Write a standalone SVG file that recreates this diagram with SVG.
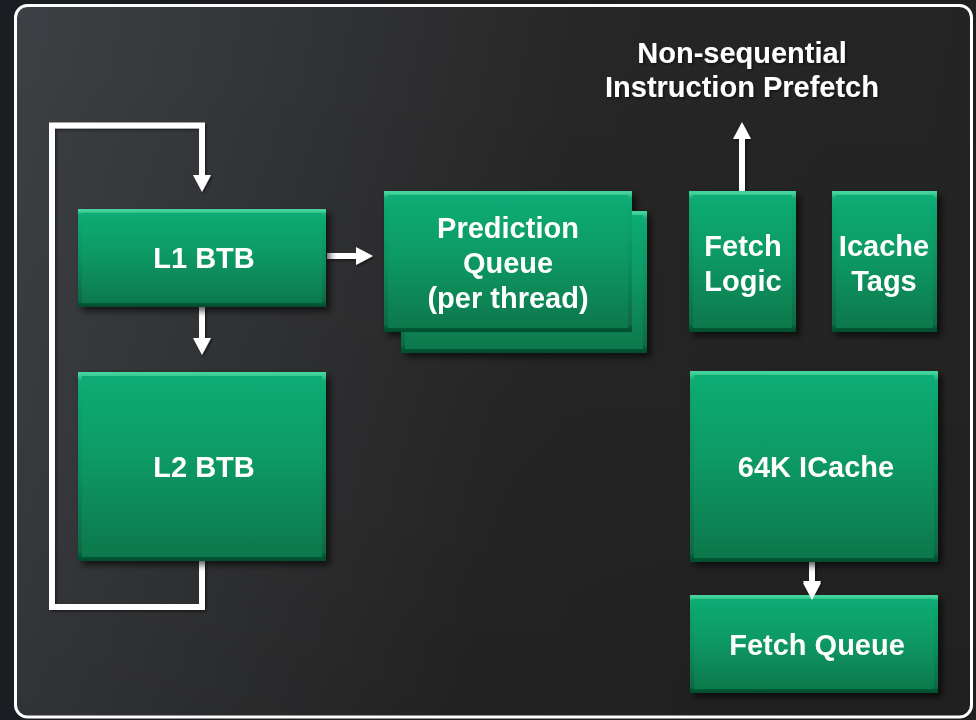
<svg xmlns="http://www.w3.org/2000/svg" width="976" height="720" viewBox="0 0 976 720">
  <defs>
    <linearGradient id="bg" x1="0" y1="0" x2="1" y2="0">
      <stop offset="0" stop-color="#1a1d21"/>
      <stop offset="1" stop-color="#202020"/>
    </linearGradient>
    <linearGradient id="panel" x1="0" y1="0" x2="1" y2="0.15">
      <stop offset="0" stop-color="#3d4044"/>
      <stop offset="0.35" stop-color="#303133"/>
      <stop offset="0.6" stop-color="#262626"/>
      <stop offset="1" stop-color="#242424"/>
    </linearGradient>
    <linearGradient id="panelShade" x1="0" y1="0" x2="0" y2="1">
      <stop offset="0" stop-color="#000" stop-opacity="0"/>
      <stop offset="0.7" stop-color="#000" stop-opacity="0.05"/>
      <stop offset="1" stop-color="#000" stop-opacity="0.12"/>
    </linearGradient>
    <linearGradient id="green" x1="0" y1="0" x2="0" y2="1">
      <stop offset="0" stop-color="#0bad76"/>
      <stop offset="0.45" stop-color="#0a9a65"/>
      <stop offset="1" stop-color="#08764a"/>
    </linearGradient>
    <linearGradient id="bevel" x1="0" y1="0" x2="0" y2="1">
      <stop offset="0" stop-color="#45d39c"/>
      <stop offset="0.04" stop-color="#12aa72"/>
      <stop offset="0.5" stop-color="#0a9060"/>
      <stop offset="0.96" stop-color="#076a43"/>
      <stop offset="1" stop-color="#05502f"/>
    </linearGradient>
    <filter id="shadow" x="-10%" y="-10%" width="130%" height="130%">
      <feDropShadow dx="4" dy="4" stdDeviation="3.5" flood-color="#000" flood-opacity="0.65"/>
    </filter>
    <filter id="tshadow" x="-5%" y="-20%" width="110%" height="150%">
      <feDropShadow dx="1.5" dy="1.5" stdDeviation="1" flood-color="#000" flood-opacity="0.5"/>
    </filter>
    <marker id="head" markerUnits="userSpaceOnUse" markerWidth="17" markerHeight="18" viewBox="0 -9 17 18" refX="0" refY="0" orient="auto" overflow="visible">
      <path d="M0,-9 L17,0 L0,9 Z" fill="#ffffff"/>
    </marker>
    <style>
      .box { fill: url(#green); }
      .bev { fill: none; stroke: url(#bevel); stroke-width: 4; }
      .node { filter: url(#shadow); }
      .lbl { font-family: "Liberation Sans", Arial, sans-serif; font-weight: bold; font-size: 29px; fill: #ffffff; text-anchor: middle; }
      .conn { fill: none; stroke: #ffffff; stroke-width: 6; stroke-linejoin: miter; }
    </style>
  </defs>

  <rect x="0" y="0" width="976" height="720" fill="url(#bg)"/>
  <rect x="15.5" y="5.5" width="956" height="711.5" rx="12" ry="12" fill="url(#panel)"/>
  <rect x="15.5" y="5.5" width="956" height="711.5" rx="12" ry="12" fill="url(#panelShade)" stroke="#ffffff" stroke-width="3"/>

  <g id="title" filter="url(#tshadow)">
    <text class="lbl" x="742" y="63">Non-sequential</text>
    <text class="lbl" x="742" y="97">Instruction Prefetch</text>
  </g>

  <g id="connectors" filter="url(#tshadow)">
    <path class="conn" d="M202,561 V607 H52 V125.5 H202 V175" marker-end="url(#head)"/>
    <path class="conn" d="M202,307 V338" marker-end="url(#head)"/>
    <path class="conn" d="M327,256 H356" marker-end="url(#head)"/>
    <path class="conn" d="M742,191 V139" marker-end="url(#head)"/>
    <path class="conn" d="M812,562 V581" marker-end="url(#head)"/>
  </g>

  <g id="l1btb" class="node">
    <rect class="box" x="78" y="209" width="248" height="98"/>
    <rect class="bev" x="80" y="211" width="244" height="94"/>
    <text class="lbl" x="204" y="268">L1 BTB</text>
  </g>

  <g id="l2btb" class="node">
    <rect class="box" x="78" y="372" width="248" height="189"/>
    <rect class="bev" x="80" y="374" width="244" height="185"/>
    <text class="lbl" x="204" y="477">L2 BTB</text>
  </g>

  <g id="predq" class="node">
    <rect class="box" x="401" y="211" width="246" height="142"/>
    <rect class="bev" x="403" y="213" width="242" height="138"/>
    <rect class="box" x="384" y="191" width="248" height="141"/>
    <rect class="bev" x="386" y="193" width="244" height="137"/>
    <text class="lbl" x="508" y="238">Prediction</text>
    <text class="lbl" x="508" y="273">Queue</text>
    <text class="lbl" x="508" y="308">(per thread)</text>
  </g>

  <g id="fetchlogic" class="node">
    <rect class="box" x="689" y="191" width="107" height="141"/>
    <rect class="bev" x="691" y="193" width="103" height="137"/>
    <text class="lbl" x="743" y="256">Fetch</text>
    <text class="lbl" x="743" y="291">Logic</text>
  </g>

  <g id="icachetags" class="node">
    <rect class="box" x="832" y="191" width="105" height="141"/>
    <rect class="bev" x="834" y="193" width="101" height="137"/>
    <text class="lbl" x="884" y="256">Icache</text>
    <text class="lbl" x="884" y="291">Tags</text>
  </g>

  <g id="icache" class="node">
    <rect class="box" x="690" y="371" width="248" height="191"/>
    <rect class="bev" x="692" y="373" width="244" height="187"/>
    <text class="lbl" x="816" y="477">64K ICache</text>
  </g>

  <g id="fetchqueue" class="node">
    <rect class="box" x="690" y="595" width="248" height="98"/>
    <rect class="bev" x="692" y="597" width="244" height="94"/>
    <text class="lbl" x="817" y="655">Fetch Queue</text>
  </g>

  <g id="arrow-fq">
    <path d="M803,583 L821,583 L812,600 Z" fill="#ffffff"/>
  </g>
</svg>
